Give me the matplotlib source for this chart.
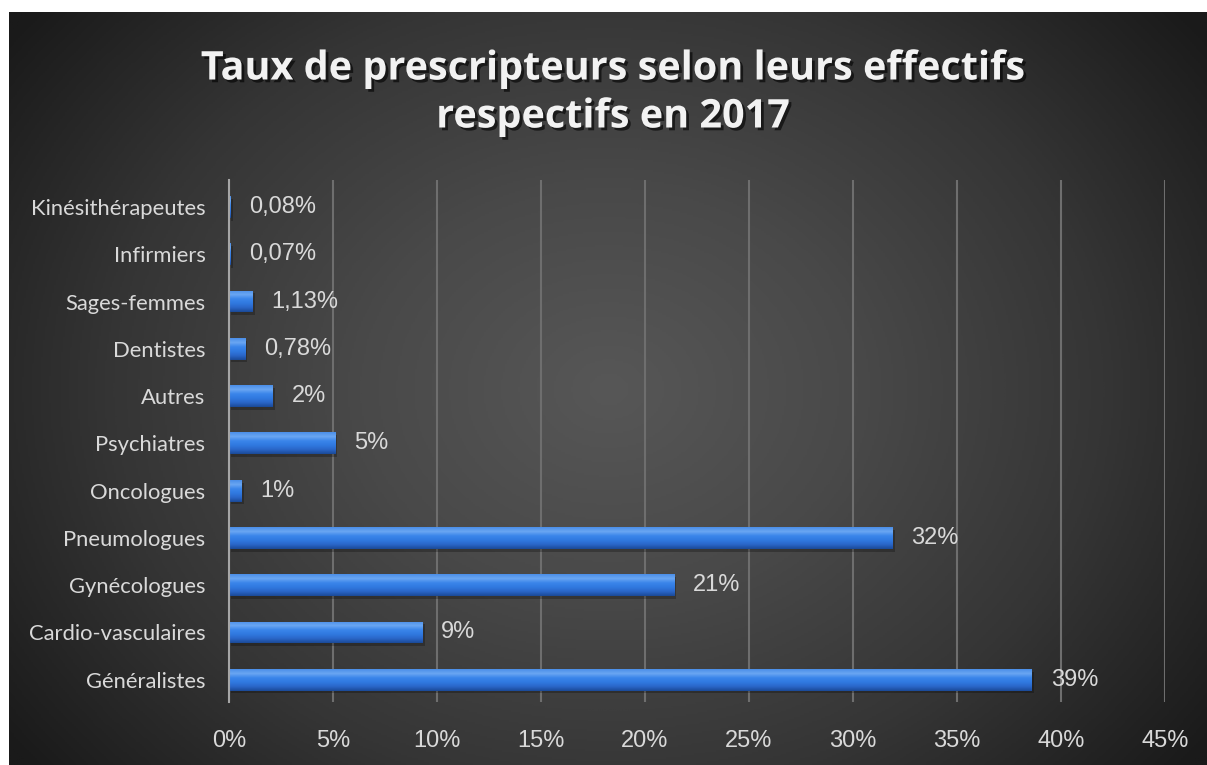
import numpy as np
import matplotlib
matplotlib.use("Agg")
import matplotlib.pyplot as plt
import matplotlib.patheffects as pe
from matplotlib.colors import LinearSegmentedColormap

categories = ["Généralistes", "Cardio-vasculaires", "Gynécologues", "Pneumologues",
              "Oncologues", "Psychiatres", "Autres", "Dentistes", "Sages-femmes",
              "Infirmiers", "Kinésithérapeutes"]
values = [38.6, 9.3, 21.4, 31.9, 0.6, 5.1, 2.1, 0.78, 1.13, 0.07, 0.08]
value_labels = ["39%", "9%", "21%", "32%", "1%", "5%", "2%", "0,78%", "1,13%", "0,07%", "0,08%"]
xticks = [0, 5, 10, 15, 20, 25, 30, 35, 40, 45]
xtick_labels = ["0%", "5%", "10%", "15%", "20%", "25%", "30%", "35%", "40%", "45%"]
title = "Taux de prescripteurs selon leurs effectifs\nrespectifs en 2017"

W, H = 1207, 765
fig = plt.figure(figsize=(W / 100, H / 100), dpi=100, facecolor="white")

# background radial gradient panel
bg = fig.add_axes([9 / W, 0, 1 - 9 / W, 1 - 12 / H])
bg.set_axis_off()
ny, nx = 400, 640
yy, xx = np.mgrid[0:ny, 0:nx]
cx, cy = nx * 0.50, ny * 0.50
r = np.sqrt(((xx - cx) / (nx * 0.62)) ** 2 + ((yy - cy) / (ny * 0.80)) ** 2)
r = np.clip(r, 0, 1)
bgcmap = LinearSegmentedColormap.from_list("bg", ["#575757", "#494949", "#353535", "#1a1a1a"])
bg.imshow(r, cmap=bgcmap, aspect="auto", extent=[0, 1, 0, 1], origin="upper", vmin=0, vmax=1)
bg.set_xlim(0, 1)
bg.set_ylim(0, 1)

ax = fig.add_axes([229 / W, 63 / H, (1165 - 229) / W, (702 - 180) / H])
ax.set_facecolor("none")
y = np.arange(len(categories))
bars = ax.barh(y, values, height=0.46, color="#2d6fd8", zorder=3,
               path_effects=[pe.SimplePatchShadow(offset=(1.5, -2), shadow_rgbFace="black", alpha=0.25), pe.Normal()])

barcmap = LinearSegmentedColormap.from_list(
    "bar", ["#1b4a98", "#2a66c8", "#3079e0", "#3a85ea", "#6aa6f2", "#4b8fe8"])
grad = np.linspace(0, 1, 64).reshape(-1, 1)
for b in bars:
    x0, y0 = b.get_x(), b.get_y()
    w, h = b.get_width(), b.get_height()
    im = ax.imshow(grad, cmap=barcmap, aspect="auto", origin="lower",
                   extent=[x0, x0 + w, y0, y0 + h], zorder=4)
    im.set_clip_path(b)

for yi, v, lab in zip(y, values, value_labels):
    ax.text(v + 0.9, yi, lab, va="center", ha="left", color="#d9d9d9",
            fontsize=17, family="Liberation Sans", zorder=5)

ax.set_xlim(0, 45)
ax.set_ylim(-0.47, 10.57)
ax.set_xticks(xticks)
ax.set_xticklabels(xtick_labels, color="#d9d9d9", fontsize=17, family="Liberation Sans")
ax.set_yticks(y)
ax.set_yticklabels(categories, color="#d9d9d9", fontsize=15.8, family="Lato")
ax.tick_params(axis="both", length=0)
ax.tick_params(axis="x", pad=20)
ax.tick_params(axis="y", pad=17)
ax.grid(axis="x", color="#6e6e6e", linewidth=1.5, zorder=0)
ax.set_axisbelow(True)
for s in ["top", "right", "bottom"]:
    ax.spines[s].set_visible(False)
ax.spines["left"].set_color("#a6a6a6")
ax.spines["left"].set_linewidth(1.5)
ax.spines["left"].set_zorder(6)

fig.text(613 / W, 1 - 93 / H, title, ha="center", va="center", color="#f2f2f2",
         fontsize=28.5, fontweight="bold", family="Open Sans", linespacing=1.3,
         path_effects=[pe.withSimplePatchShadow(offset=(2, -2), shadow_rgbFace="black", alpha=0.6)])

fig.savefig("out.png", dpi=100, facecolor="white")
